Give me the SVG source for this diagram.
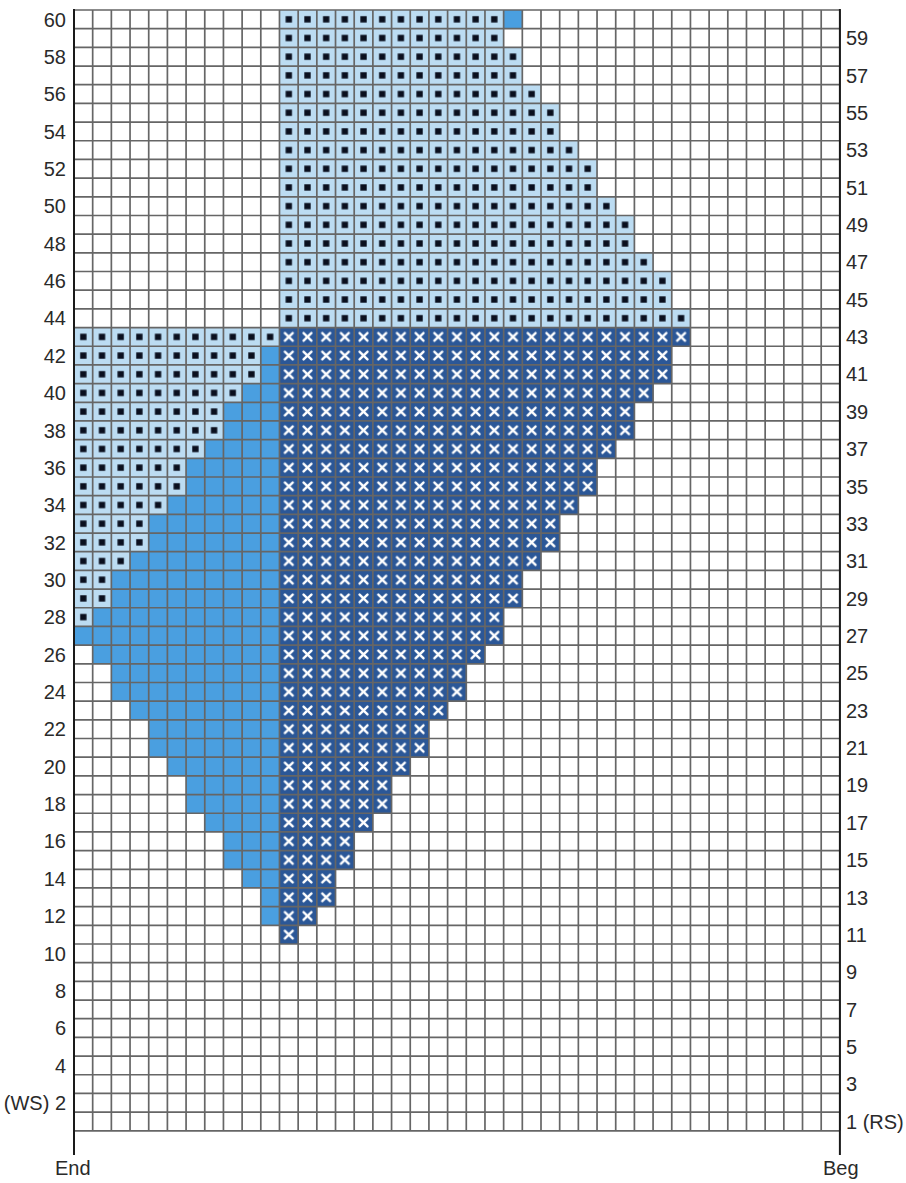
<svg xmlns="http://www.w3.org/2000/svg" width="906" height="1183" viewBox="0 0 906 1183">
<style>
.lbl{font-family:"Liberation Sans",Arial,sans-serif;font-size:20px;fill:#2a2a2a}
.l{text-anchor:end}
.dot{fill:url(#pd)}
.xx{fill:url(#px)}
.med{fill:#4a9fe0}
.grid{fill:none;stroke:#666;stroke-width:1.7}
.axis{stroke:#1a1a1a;stroke-width:2}
</style>
<defs>
<pattern id="pd" patternUnits="userSpaceOnUse" width="1" height="1">
<rect width="1" height="1" fill="#bcdcf2"/>
<rect x="0.33" y="0.33" width="0.34" height="0.34" fill="#0a0f1e"/>
</pattern>
<pattern id="px" patternUnits="userSpaceOnUse" width="1" height="1">
<rect width="1" height="1" fill="#2b5797"/>
<path d="M.29 .29L.71 .71M.71 .29L.29 .71" stroke="#fff" stroke-width="0.13" stroke-linecap="round"/>
</pattern>
</defs>
<rect width="906" height="1183" fill="#fff"/>
<g id="chart" transform="translate(74,10) scale(18.68)">
<g id="light-top">
<rect class="dot" x="11" y="0" width="12" height="1"/>
<rect class="dot" x="11" y="1" width="12" height="1"/>
<rect class="dot" x="11" y="2" width="13" height="1"/>
<rect class="dot" x="11" y="3" width="13" height="1"/>
<rect class="dot" x="11" y="4" width="14" height="1"/>
<rect class="dot" x="11" y="5" width="15" height="1"/>
<rect class="dot" x="11" y="6" width="15" height="1"/>
<rect class="dot" x="11" y="7" width="16" height="1"/>
<rect class="dot" x="11" y="8" width="17" height="1"/>
<rect class="dot" x="11" y="9" width="17" height="1"/>
<rect class="dot" x="11" y="10" width="18" height="1"/>
<rect class="dot" x="11" y="11" width="19" height="1"/>
<rect class="dot" x="11" y="12" width="19" height="1"/>
<rect class="dot" x="11" y="13" width="20" height="1"/>
<rect class="dot" x="11" y="14" width="21" height="1"/>
<rect class="dot" x="11" y="15" width="21" height="1"/>
<rect class="dot" x="11" y="16" width="22" height="1"/>
</g>
<g id="light-left">
<rect class="dot" x="0" y="17" width="11" height="1"/>
<rect class="dot" x="0" y="18" width="10" height="1"/>
<rect class="dot" x="0" y="19" width="10" height="1"/>
<rect class="dot" x="0" y="20" width="9" height="1"/>
<rect class="dot" x="0" y="21" width="8" height="1"/>
<rect class="dot" x="0" y="22" width="8" height="1"/>
<rect class="dot" x="0" y="23" width="7" height="1"/>
<rect class="dot" x="0" y="24" width="6" height="1"/>
<rect class="dot" x="0" y="25" width="6" height="1"/>
<rect class="dot" x="0" y="26" width="5" height="1"/>
<rect class="dot" x="0" y="27" width="4" height="1"/>
<rect class="dot" x="0" y="28" width="4" height="1"/>
<rect class="dot" x="0" y="29" width="3" height="1"/>
<rect class="dot" x="0" y="30" width="2" height="1"/>
<rect class="dot" x="0" y="31" width="2" height="1"/>
<rect class="dot" x="0" y="32" width="1" height="1"/>
</g>
<g id="medium">
<rect class="med" x="23" y="0" width="1" height="1"/>
<rect class="med" x="10" y="18" width="1" height="1"/>
<rect class="med" x="10" y="19" width="1" height="1"/>
<rect class="med" x="9" y="20" width="2" height="1"/>
<rect class="med" x="8" y="21" width="3" height="1"/>
<rect class="med" x="8" y="22" width="3" height="1"/>
<rect class="med" x="7" y="23" width="4" height="1"/>
<rect class="med" x="6" y="24" width="5" height="1"/>
<rect class="med" x="6" y="25" width="5" height="1"/>
<rect class="med" x="5" y="26" width="6" height="1"/>
<rect class="med" x="4" y="27" width="7" height="1"/>
<rect class="med" x="4" y="28" width="7" height="1"/>
<rect class="med" x="3" y="29" width="8" height="1"/>
<rect class="med" x="2" y="30" width="9" height="1"/>
<rect class="med" x="2" y="31" width="9" height="1"/>
<rect class="med" x="1" y="32" width="10" height="1"/>
<rect class="med" x="0" y="33" width="11" height="1"/>
<rect class="med" x="1" y="34" width="10" height="1"/>
<rect class="med" x="2" y="35" width="9" height="1"/>
<rect class="med" x="2" y="36" width="9" height="1"/>
<rect class="med" x="3" y="37" width="8" height="1"/>
<rect class="med" x="4" y="38" width="7" height="1"/>
<rect class="med" x="4" y="39" width="7" height="1"/>
<rect class="med" x="5" y="40" width="6" height="1"/>
<rect class="med" x="6" y="41" width="5" height="1"/>
<rect class="med" x="6" y="42" width="5" height="1"/>
<rect class="med" x="7" y="43" width="4" height="1"/>
<rect class="med" x="8" y="44" width="3" height="1"/>
<rect class="med" x="8" y="45" width="3" height="1"/>
<rect class="med" x="9" y="46" width="2" height="1"/>
<rect class="med" x="10" y="47" width="1" height="1"/>
<rect class="med" x="10" y="48" width="1" height="1"/>
</g>
<g id="dark">
<rect class="xx" x="11" y="17" width="22" height="1"/>
<rect class="xx" x="11" y="18" width="21" height="1"/>
<rect class="xx" x="11" y="19" width="21" height="1"/>
<rect class="xx" x="11" y="20" width="20" height="1"/>
<rect class="xx" x="11" y="21" width="19" height="1"/>
<rect class="xx" x="11" y="22" width="19" height="1"/>
<rect class="xx" x="11" y="23" width="18" height="1"/>
<rect class="xx" x="11" y="24" width="17" height="1"/>
<rect class="xx" x="11" y="25" width="17" height="1"/>
<rect class="xx" x="11" y="26" width="16" height="1"/>
<rect class="xx" x="11" y="27" width="15" height="1"/>
<rect class="xx" x="11" y="28" width="15" height="1"/>
<rect class="xx" x="11" y="29" width="14" height="1"/>
<rect class="xx" x="11" y="30" width="13" height="1"/>
<rect class="xx" x="11" y="31" width="13" height="1"/>
<rect class="xx" x="11" y="32" width="12" height="1"/>
<rect class="xx" x="11" y="33" width="12" height="1"/>
<rect class="xx" x="11" y="34" width="11" height="1"/>
<rect class="xx" x="11" y="35" width="10" height="1"/>
<rect class="xx" x="11" y="36" width="10" height="1"/>
<rect class="xx" x="11" y="37" width="9" height="1"/>
<rect class="xx" x="11" y="38" width="8" height="1"/>
<rect class="xx" x="11" y="39" width="8" height="1"/>
<rect class="xx" x="11" y="40" width="7" height="1"/>
<rect class="xx" x="11" y="41" width="6" height="1"/>
<rect class="xx" x="11" y="42" width="6" height="1"/>
<rect class="xx" x="11" y="43" width="5" height="1"/>
<rect class="xx" x="11" y="44" width="4" height="1"/>
<rect class="xx" x="11" y="45" width="4" height="1"/>
<rect class="xx" x="11" y="46" width="3" height="1"/>
<rect class="xx" x="11" y="47" width="3" height="1"/>
<rect class="xx" x="11" y="48" width="2" height="1"/>
<rect class="xx" x="11" y="49" width="1" height="1"/>
</g>
<path id="grid" class="grid" vector-effect="non-scaling-stroke" d="M0 0V60M1 0V60M2 0V60M3 0V60M4 0V60M5 0V60M6 0V60M7 0V60M8 0V60M9 0V60M10 0V60M11 0V60M12 0V60M13 0V60M14 0V60M15 0V60M16 0V60M17 0V60M18 0V60M19 0V60M20 0V60M21 0V60M22 0V60M23 0V60M24 0V60M25 0V60M26 0V60M27 0V60M28 0V60M29 0V60M30 0V60M31 0V60M32 0V60M33 0V60M34 0V60M35 0V60M36 0V60M37 0V60M38 0V60M39 0V60M40 0V60M41 0V60M0 0H41M0 1H41M0 2H41M0 3H41M0 4H41M0 5H41M0 6H41M0 7H41M0 8H41M0 9H41M0 10H41M0 11H41M0 12H41M0 13H41M0 14H41M0 15H41M0 16H41M0 17H41M0 18H41M0 19H41M0 20H41M0 21H41M0 22H41M0 23H41M0 24H41M0 25H41M0 26H41M0 27H41M0 28H41M0 29H41M0 30H41M0 31H41M0 32H41M0 33H41M0 34H41M0 35H41M0 36H41M0 37H41M0 38H41M0 39H41M0 40H41M0 41H41M0 42H41M0 43H41M0 44H41M0 45H41M0 46H41M0 47H41M0 48H41M0 49H41M0 50H41M0 51H41M0 52H41M0 53H41M0 54H41M0 55H41M0 56H41M0 57H41M0 58H41M0 59H41M0 60H41"/>
</g>
<g id="axes">
<line class="axis" x1="74" y1="9" x2="74" y2="1155"/>
<line class="axis" x1="839.9" y1="9" x2="839.9" y2="1155"/>
</g>
<g id="labels-left" class="lbl l">
<text x="66" y="26.5">60</text>
<text x="66" y="63.9">58</text>
<text x="66" y="101.2">56</text>
<text x="66" y="138.6">54</text>
<text x="66" y="175.9">52</text>
<text x="66" y="213.3">50</text>
<text x="66" y="250.7">48</text>
<text x="66" y="288">46</text>
<text x="66" y="325.4">44</text>
<text x="66" y="362.7">42</text>
<text x="66" y="400.1">40</text>
<text x="66" y="437.5">38</text>
<text x="66" y="474.8">36</text>
<text x="66" y="512.2">34</text>
<text x="66" y="549.5">32</text>
<text x="66" y="586.9">30</text>
<text x="66" y="624.3">28</text>
<text x="66" y="661.6">26</text>
<text x="66" y="699">24</text>
<text x="66" y="736.3">22</text>
<text x="66" y="773.7">20</text>
<text x="66" y="811.1">18</text>
<text x="66" y="848.4">16</text>
<text x="66" y="885.8">14</text>
<text x="66" y="923.1">12</text>
<text x="66" y="960.5">10</text>
<text x="66" y="997.9">8</text>
<text x="66" y="1035.2">6</text>
<text x="66" y="1072.6">4</text>
<text x="66" y="1109.9">(WS) 2</text>
</g>
<g id="labels-right" class="lbl">
<text x="846" y="45.2">59</text>
<text x="846" y="82.5">57</text>
<text x="846" y="119.9">55</text>
<text x="846" y="157.3">53</text>
<text x="846" y="194.6">51</text>
<text x="846" y="232">49</text>
<text x="846" y="269.3">47</text>
<text x="846" y="306.7">45</text>
<text x="846" y="344.1">43</text>
<text x="846" y="381.4">41</text>
<text x="846" y="418.8">39</text>
<text x="846" y="456.1">37</text>
<text x="846" y="493.5">35</text>
<text x="846" y="530.9">33</text>
<text x="846" y="568.2">31</text>
<text x="846" y="605.6">29</text>
<text x="846" y="642.9">27</text>
<text x="846" y="680.3">25</text>
<text x="846" y="717.7">23</text>
<text x="846" y="755">21</text>
<text x="846" y="792.4">19</text>
<text x="846" y="829.7">17</text>
<text x="846" y="867.1">15</text>
<text x="846" y="904.5">13</text>
<text x="846" y="941.8">11</text>
<text x="846" y="979.2">9</text>
<text x="846" y="1016.5">7</text>
<text x="846" y="1053.9">5</text>
<text x="846" y="1091.3">3</text>
<text x="846" y="1128.6">1 (RS)</text>
</g>
<g id="ends" class="lbl">
<text x="55" y="1175">End</text>
<text x="823" y="1175">Beg</text>
</g>
</svg>
